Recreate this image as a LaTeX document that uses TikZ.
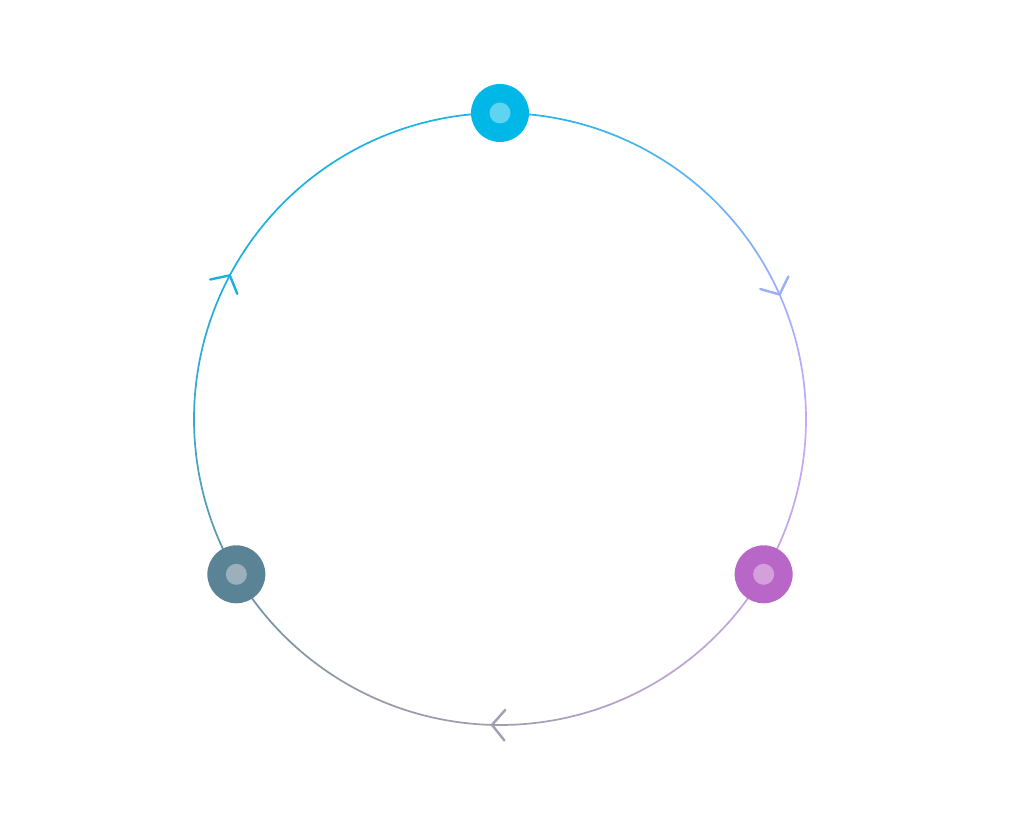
\documentclass[tikz,border=0pt]{standalone}
\usetikzlibrary{calc}

\definecolor{stopA}{HTML}{1CB4E8}
\definecolor{stopB}{HTML}{6AB2F2}
\definecolor{stopC}{HTML}{A6AEFC}
\definecolor{stopD}{HTML}{C8A8FA}
\definecolor{stopE}{HTML}{C4A4E4}
\definecolor{stopF}{HTML}{B8A4D0}
\definecolor{stopG}{HTML}{A29CB0}
\definecolor{stopH}{HTML}{9498A4}
\definecolor{stopI}{HTML}{6494A4}
\definecolor{stopJ}{HTML}{3CA8C8}
\definecolor{stopK}{HTML}{1CB0E0}

\definecolor{dotcyan}{HTML}{00B8E8}
\definecolor{dotcyanin}{HTML}{5ED4F0}
\definecolor{dotpurple}{HTML}{B866C8}
\definecolor{dotpurplein}{HTML}{D4A0DC}
\definecolor{dotslate}{HTML}{5A8496}
\definecolor{dotslatein}{HTML}{9CB0BC}

\tikzset{
  stage/.style={circle, minimum size=58pt, inner sep=0pt},
  stagecore/.style={circle, minimum size=21pt, inner sep=0pt},
  chevron/.style={line width=2.4pt, line cap=round}
}

\begin{document}
\begin{tikzpicture}[x=1pt,y=1pt]
\useasboundingbox (0,0) rectangle (1020,839);

\coordinate (c) at (500,420);

% ring, coloured piece by piece
\foreach \a/\b/\ca/\cb in {90/45/stopA/stopB, 45/20/stopB/stopC, 20/0/stopC/stopD,
  0/-30/stopD/stopE, -30/-60/stopE/stopF, -60/-90/stopF/stopG, -90/-120/stopG/stopH,
  -120/-150/stopH/stopI, -150/-180/stopI/stopJ, -180/-210/stopJ/stopK, -210/-270/stopK/stopA}{
  \foreach \i in {0,...,9}{
    \pgfmathsetmacro\s{\a+(\b-\a)*\i/10}
    \pgfmathsetmacro\e{\a+(\b-\a)*(\i+1)/10}
    \pgfmathtruncatemacro\p{95-10*\i}
    \draw[draw=\ca!\p!\cb, line width=1.7pt, line cap=round] ($(c)+(\s:306)$) arc (\s:\e:306);
  }
}

% direction marks
\foreach \t/\col in {24/stopC!80!stopB, 268.5/stopG!90!stopF, 152/stopK}{
  \coordinate (tip) at ($(c)+(\t:306)$);
  \draw[chevron, \col] ($(tip)+(\t+40:20)$) -- (tip) -- ($(tip)+(\t+140:20)$);
}

% stages
\node[stage, fill=dotcyan] (top) at ($(c)+(90:306)$) {};
\node[stagecore, fill=dotcyanin] at (top) {};

\node[stage, fill=dotpurple] (right) at ($(c)+(-30.5:306)$) {};
\node[stagecore, fill=dotpurplein] at (right) {};

\node[stage, fill=dotslate] (left) at ($(c)+(210.5:306)$) {};
\node[stagecore, fill=dotslatein] at (left) {};
\end{tikzpicture}
\end{document}
